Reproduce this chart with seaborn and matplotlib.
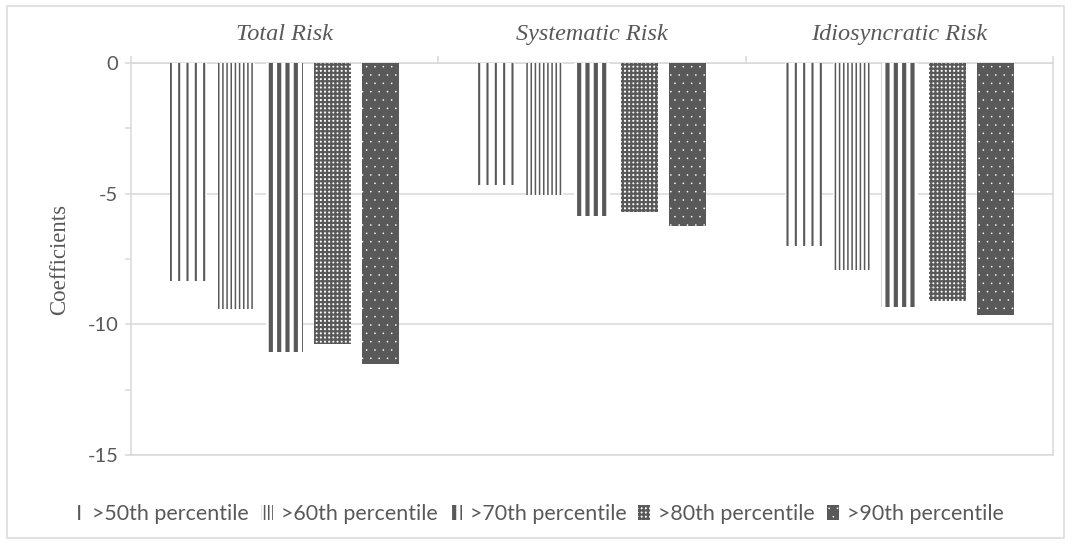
import numpy as np
import pandas as pd
import matplotlib
matplotlib.use("Agg")
import matplotlib.pyplot as plt
import seaborn as sns
from matplotlib.patches import Rectangle

# data
risks = ["Total Risk", "Systematic Risk", "Idiosyncratic Risk"]
pct_labels = [">50th percentile", ">60th percentile", ">70th percentile",
              ">80th percentile", ">90th percentile"]
p50 = [-8.35, -4.67, -7.0]
p60 = [-9.4, -5.07, -7.94]
p70 = [-11.05, -5.85, -9.35]
p80 = [-10.75, -5.7, -9.1]
p90 = [-11.5, -6.23, -9.66]

rows = []
for lab, vals in zip(pct_labels, [p50, p60, p70, p80, p90]):
    for r, v in zip(risks, vals):
        rows.append({"risk": r, "coef": v, "pct": lab})
df = pd.DataFrame(rows)

sns.set_style("white")
plt.rcParams["font.family"] = ["Lato", "DejaVu Sans"]
plt.rcParams["axes.unicode_minus"] = False

dark = "#595959"
light = "#d9d9d9"

fig = plt.figure(figsize=(10.72, 5.44), dpi=100)
ax = fig.add_axes([131 / 1072, 89 / 544, 922 / 1072, 392 / 544])

sns.barplot(data=df, x="risk", y="coef", hue="pct", order=risks,
            hue_order=pct_labels, width=0.78, gap=0.23, legend=False,
            palette=["white"] * 5, ax=ax, zorder=3)

# pattern per series: (face, hatch colour, hatch, hatch linewidth)
styles = [
    ("white", dark, "||", 1.5),
    ("white", dark, "||||", 1.1),
    ("white", dark, "||", 3.0),
    ("white", dark, "++++", 1.6),
    (dark, "white", "..", 0.0),
]
for cont, (fc, hc, h, hlw) in zip(ax.containers, styles):
    for p in cont.patches:
        p.set_facecolor(fc)
        p.set_edgecolor(hc)
        p.set_hatch(h)
        p.set_linewidth(0)
        if hasattr(p, "set_hatch_linewidth"):
            p.set_hatch_linewidth(hlw)

ax.set_xlim(-0.5, 2.5)
ax.set_ylim(-15, 0)
ax.set_axisbelow(True)

# y axis
ax.set_yticks([0, -5, -10, -15])
ax.set_yticks([-2.5, -7.5, -12.5], minor=True)
ax.yaxis.grid(True, color=light, linewidth=1.1)
ax.tick_params(axis="y", which="both", direction="out", length=4, width=1.1,
               color=light, left=True, labelsize=14.5, labelcolor=dark, pad=5)
ax.set_ylabel("Coefficients", family=["Liberation Serif"], fontsize=16.5, color=dark)
ax.yaxis.set_label_coords(-0.066, 0.5)

# category axis on top
ax.xaxis.tick_top()
ax.set_xticks([-0.5, 0.5, 1.5, 2.5])
ax.set_xticklabels([])
ax.set_xticks([0, 1, 2], minor=True)
ax.set_xticklabels(risks, minor=True, family=["Liberation Serif"], style="italic",
                   fontsize=17.5, color=dark)
ax.tick_params(axis="x", which="major", direction="out", length=5, width=1.1,
               color=light, top=True, bottom=False)
ax.tick_params(axis="x", which="minor", length=0, pad=13, top=True, bottom=False)
ax.set_xlabel("")

for s in ax.spines.values():
    s.set_visible(True)
    s.set_color(light)
    s.set_linewidth(1.1)

handles = [c.patches[0] for c in ax.containers]
leg = fig.legend(handles, pct_labels, loc="center", bbox_to_anchor=(0.502, 1 - 514 / 544),
                 ncol=5, frameon=False, fontsize=15.4, labelcolor=dark,
                 handlelength=0.56, handleheight=0.65, handletextpad=0.37,
                 columnspacing=0.56)
for lh, st in zip(leg.legend_handles, styles):
    if hasattr(lh, "set_hatch_linewidth"):
        lh.set_hatch_linewidth(st[3])

fig.patches.append(Rectangle((7 / 1072, 6 / 544), 1057 / 1072, 532 / 544,
                             transform=fig.transFigure, fill=False,
                             edgecolor=light, linewidth=1.1))

fig.savefig("out.png", dpi=100)
